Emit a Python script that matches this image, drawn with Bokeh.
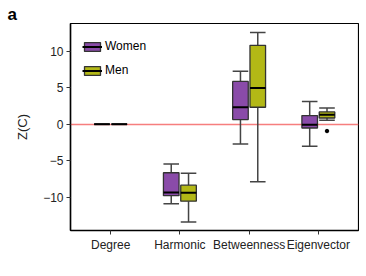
from bokeh.plotting import figure
from bokeh.models import Range1d, Legend, LegendItem, FixedTicker, ColumnDataSource
from bokeh.embed import file_html
from bokeh.resources import INLINE

categories = ["Degree", "Harmonic", "Betweenness", "Eigenvector"]
groups = ["Women", "Men"]

# five-number summaries (whisker low, q1, median, q3, whisker high)
women_lo  = [0.0, -10.9, -2.7, -3.0]
women_q1  = [0.0, -9.8, 0.65, -0.5]
women_med = [0.0, -9.35, 2.35, -0.05]
women_q3  = [0.0, -6.65, 5.9, 1.2]
women_hi  = [0.0, -5.45, 7.3, 3.15]

men_lo  = [0.0, -13.4, -7.9, 0.55]
men_q1  = [0.0, -10.55, 2.35, 0.87]
men_med = [0.0, -9.4, 5.0, 1.33]
men_q3  = [0.0, -8.35, 10.85, 1.7]
men_hi  = [0.0, -6.7, 12.6, 2.25]

men_outlier_cat = [4]
men_outlier_val = [-0.92]

yticks = [-10, -5, 0, 5, 10]
ref_line = [0]

colors = {"Women": "#8A4BA9", "Men": "#B3B816"}
offset = {"Women": -0.125, "Men": 0.125}
box_w = 0.225
FONT = "Liberation Sans"

p = figure(width=359, height=268, output_backend="svg", toolbar_location=None,
           x_range=Range1d(0.42, 4.58), y_range=Range1d(-14.58, 13.85),
           min_border_left=70, min_border_top=23, min_border_bottom=38, min_border_right=1,
           title="a")
p.title.text_font = FONT
p.title.text_font_size = "17px"
p.title.text_font_style = "bold"
p.title.text_color = "black"
p.title.align = "left"
p.title.offset = -63
p.title.standoff = 0
p.background_fill_color = "white"
p.border_fill_color = "white"
p.outline_line_color = "black"
p.outline_line_width = 1.2
p.grid.visible = False

# reference line at 0 (drawn first so boxes sit on top)
p.hspan(y=ref_line, line_color="#F67E7E", line_width=1.5)

legend_items = []
for g, lo, q1, med, q3, hi in [("Women", women_lo, women_q1, women_med, women_q3, women_hi),
                               ("Men", men_lo, men_q1, men_med, men_q3, men_hi)]:
    xs = [i + 1 + offset[g] for i in range(len(categories))]
    src = ColumnDataSource(dict(x=xs, lo=lo, q1=q1, med=med, q3=q3, hi=hi,
                                xl=[x - box_w / 2 for x in xs], xr=[x + box_w / 2 for x in xs]))
    # whiskers
    p.segment(x0="x", y0="q3", x1="x", y1="hi", source=src, line_color="#444444", line_width=1.5)
    p.segment(x0="x", y0="lo", x1="x", y1="q1", source=src, line_color="#444444", line_width=1.5)
    p.segment(x0="xl", y0="hi", x1="xr", y1="hi", source=src, line_color="#444444", line_width=1.5)
    p.segment(x0="xl", y0="lo", x1="xr", y1="lo", source=src, line_color="#444444", line_width=1.5)
    box = p.vbar(x="x", width=box_w, top="q3", bottom="q1", source=src,
                 fill_color=colors[g], line_color="#333333", line_width=1.3)
    medr = p.segment(x0="xl", y0="med", x1="xr", y1="med", source=src,
                     line_color="black", line_width=2)
    legend_items.append(LegendItem(label=g, renderers=[box, medr]))

p.scatter(x=[c + offset["Men"] for c in men_outlier_cat], y=men_outlier_val,
          size=3.5, color="black")

legend = Legend(items=legend_items, location=(12, 153), margin=0, padding=0,
                glyph_width=20, glyph_height=11, label_height=14, spacing=10,
                label_text_font=FONT, label_text_font_size="12px", label_text_color="black",
                background_fill_alpha=0, border_line_alpha=0, label_standoff=3)
p.add_layout(legend)

# axes
p.xaxis.ticker = FixedTicker(ticks=list(range(1, len(categories) + 1)))
p.xaxis.major_label_overrides = {i + 1: c for i, c in enumerate(categories)}
p.yaxis.ticker = FixedTicker(ticks=yticks)
p.yaxis.major_label_overrides = {t: (str(t).replace("-", "\u2212")) for t in yticks}
for ax in (p.xaxis[0], p.yaxis[0]):
    ax.axis_line_color = "black"
    ax.axis_line_width = 1.5
    ax.major_tick_line_color = "#333333"
    ax.major_tick_line_width = 1
    ax.major_tick_out = 4
    ax.major_tick_in = 0
    ax.minor_tick_line_color = None
    ax.major_label_text_font = FONT
    ax.major_label_text_font_size = "12px"
    ax.major_label_text_color = "#222222"
    ax.major_label_standoff = 3
p.yaxis.axis_label = "Z(C)"
p.yaxis.axis_label_text_font = FONT
p.yaxis.axis_label_text_font_size = "13px"
p.yaxis.axis_label_text_font_style = "normal"
p.yaxis.axis_label_text_color = "#222222"
p.yaxis.axis_label_standoff = 10

open("out.html", "w").write(file_html(p, INLINE))
